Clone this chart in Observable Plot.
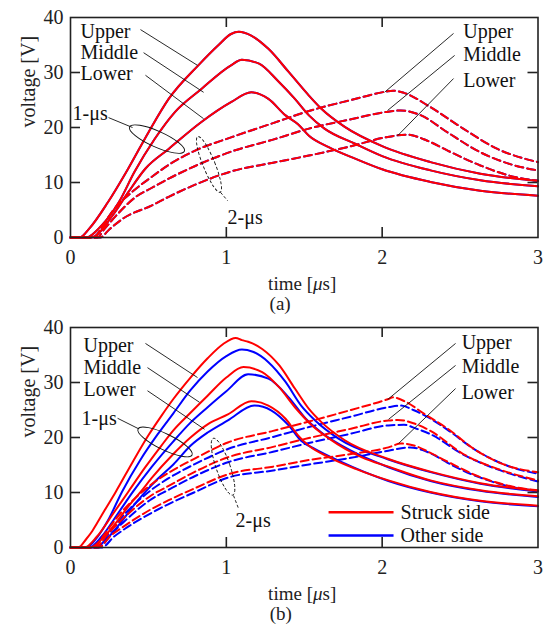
<!DOCTYPE html>
<html><head><meta charset="utf-8">
<script src="https://cdn.jsdelivr.net/npm/d3@7"></script>
<script src="https://cdn.jsdelivr.net/npm/@observablehq/plot@0.6"></script>
<style>body{margin:0;background:#fff}#a,#b{display:block;line-height:0}svg text{font-family:"Liberation Serif","Times New Roman",serif}</style>
</head><body><div id="a"></div><div id="b"></div>
<script>
// ---- data: [time (µs), voltage (V)] ----
// Panel (a): struck side and other side coincide
const A_U1 = [[0,0],[0.06,0],[0.12,1.6],[0.24,6.4],[0.37,12.5],[0.50,19.1],[0.63,25.2],[0.82,31.3],[0.95,35.0],[1.03,37.0],[1.08,37.4],[1.16,36.7],[1.27,34.3],[1.40,30.1],[1.53,25.8],[1.61,23.4],[1.76,20.1],[2.0,16.6],[2.31,13.7],[2.63,11.6],[3.0,10.3]];
const A_M1 = [[0,0],[0.10,0],[0.20,2.2],[0.31,6.4],[0.41,11.9],[0.54,17.9],[0.67,22.8],[0.84,27.0],[1.03,31.3],[1.10,32.3],[1.21,31.6],[1.33,28.5],[1.44,25.2],[1.53,22.2],[1.63,19.8],[1.83,17.0],[2.0,14.8],[2.31,12.2],[2.63,10.4],[3.0,9.3]];
const A_L1 = [[0,0],[0.13,0],[0.27,4.0],[0.37,8.2],[0.48,12.5],[0.63,16.1],[0.84,21.0],[1.03,24.6],[1.16,26.4],[1.27,25.2],[1.38,22.2],[1.46,20.6],[1.53,18.5],[1.66,16.4],[1.83,14.3],[2.0,12.4],[2.31,10.1],[2.63,8.5],[3.0,7.6]];
const A_U2 = [[0,0],[0.15,0],[0.20,1.8],[0.27,4.8],[0.40,8.4],[0.52,11.0],[0.63,13.2],[0.80,15.8],[1.03,18.2],[1.30,20.8],[1.53,23.0],[1.80,25.0],[2.02,26.5],[2.07,26.7],[2.14,26.3],[2.31,23.7],[2.52,19.8],[2.74,16.1],[3.0,13.7]];
const A_M2 = [[0,0],[0.17,0],[0.22,1.6],[0.30,4.2],[0.42,7.4],[0.52,9.0],[0.63,10.7],[0.80,13.0],[1.03,15.6],[1.30,17.8],[1.53,19.8],[1.80,21.5],[2.02,22.8],[2.12,23.1],[2.25,22.2],[2.42,19.1],[2.63,15.5],[2.85,13.1],[3.0,12.2]];
const A_L2 = [[0,0],[0.19,0],[0.25,1.5],[0.34,3.5],[0.52,5.8],[0.63,7.4],[0.80,9.6],[1.03,12.0],[1.30,13.6],[1.53,14.9],[1.80,16.6],[2.02,18.2],[2.16,18.7],[2.29,17.6],[2.42,15.8],[2.63,13.1],[2.85,11.0],[3.0,10.3]];

// Panel (b): struck side (red) and other side (blue)
const B_RU1 = [[0,0],[0.05,0],[0.10,1.5],[0.14,3.0],[0.17,4.4],[0.22,6.8],[0.29,10.1],[0.40,15.6],[0.50,20.4],[0.58,23.8],[0.66,27.0],[0.77,30.9],[0.88,34.4],[0.98,37.0],[1.06,38.1],[1.10,37.7],[1.14,37.4],[1.23,36.1],[1.34,33.1],[1.44,28.9],[1.53,25.2],[1.61,22.8],[1.76,19.5],[2.04,16.1],[2.31,13.8],[2.63,11.7],[3.0,10.3]];
const B_BU1 = [[0,0],[0.10,0],[0.17,1.8],[0.24,4.9],[0.33,10.1],[0.45,16.0],[0.56,20.6],[0.66,24.4],[0.77,28.6],[0.88,32.0],[1.00,34.8],[1.10,36.0],[1.17,35.6],[1.27,33.7],[1.38,30.1],[1.48,25.8],[1.57,23.1],[1.72,19.8],[2.04,16.0],[2.31,13.7],[2.63,11.6],[3.0,10.2]];
const B_RM1 = [[0,0],[0.09,0],[0.17,2.0],[0.27,6.0],[0.37,10.1],[0.48,14.6],[0.58,18.4],[0.66,21.3],[0.77,24.5],[0.88,27.6],[1.00,30.9],[1.11,32.8],[1.23,31.9],[1.34,29.1],[1.44,25.5],[1.55,22.2],[1.66,19.8],[1.87,16.4],[2.04,14.7],[2.31,12.2],[2.63,10.4],[3.0,9.3]];
const B_BM1 = [[0,0],[0.12,0],[0.20,2.0],[0.30,6.0],[0.40,10.1],[0.52,14.6],[0.66,19.3],[0.77,22.7],[0.88,25.5],[1.00,28.4],[1.14,31.5],[1.27,30.7],[1.40,27.3],[1.51,23.4],[1.61,20.9],[1.80,17.6],[2.04,14.6],[2.31,12.1],[2.63,10.3],[3.0,9.2]];
const B_RL1 = [[0,0],[0.13,0],[0.20,1.5],[0.30,4.8],[0.38,7.8],[0.45,10.1],[0.52,12.6],[0.66,17.0],[0.77,20.0],[0.88,22.4],[1.01,24.2],[1.16,26.6],[1.27,25.8],[1.38,23.4],[1.46,20.4],[1.53,18.5],[1.66,16.4],[1.83,14.3],[2.04,12.2],[2.31,10.1],[2.63,8.5],[3.0,7.6]];
const B_BL1 = [[0,0],[0.16,0],[0.23,1.5],[0.33,4.8],[0.41,7.8],[0.48,10.1],[0.56,12.5],[0.66,15.1],[0.77,18.5],[0.88,20.9],[1.01,23.1],[1.18,25.8],[1.29,24.9],[1.40,22.2],[1.48,19.4],[1.57,17.9],[1.72,15.8],[2.04,12.1],[2.31,10.0],[2.63,8.4],[3.0,7.5]];
const B_RU2 = [[0,0],[0.15,0],[0.22,2.5],[0.30,5.5],[0.52,11.5],[0.63,13.6],[0.80,16.2],[1.01,19.1],[1.30,21.2],[1.53,22.9],[1.80,25.0],[2.04,27.0],[2.07,27.3],[2.15,26.5],[2.27,24.3],[2.42,21.6],[2.59,17.9],[2.80,14.9],[3.0,13.7]];
const B_BU2 = [[0,0],[0.17,0],[0.24,2.3],[0.32,5.2],[0.52,10.5],[0.63,12.6],[0.80,15.2],[1.01,17.9],[1.30,20.1],[1.53,21.9],[1.80,23.8],[2.04,25.5],[2.12,25.8],[2.20,25.0],[2.30,23.6],[2.42,21.4],[2.59,17.9],[2.80,14.9],[3.0,13.4]];
const B_RM2 = [[0,0],[0.16,0],[0.24,2.5],[0.32,4.8],[0.52,9.5],[0.63,11.2],[0.80,13.8],[1.01,16.4],[1.30,18.3],[1.53,19.9],[1.80,21.6],[2.04,23.1],[2.10,23.2],[2.20,22.6],[2.31,21.2],[2.52,17.0],[2.74,14.3],[3.0,12.2]];
const B_BM2 = [[0,0],[0.18,0],[0.26,2.4],[0.34,4.6],[0.52,8.8],[0.63,10.5],[0.80,13.0],[1.01,15.5],[1.30,17.4],[1.53,19.0],[1.80,20.7],[2.04,22.2],[2.14,22.3],[2.22,21.6],[2.31,20.6],[2.52,16.9],[2.74,14.2],[3.0,12.0]];
const B_RL2 = [[0,0],[0.18,0],[0.26,2.2],[0.34,3.8],[0.52,7.0],[0.63,8.6],[0.80,10.8],[1.01,13.3],[1.30,14.7],[1.53,15.9],[1.80,17.0],[2.04,18.2],[2.12,18.9],[2.22,18.4],[2.31,17.2],[2.42,15.6],[2.63,12.8],[2.85,11.0],[3.0,10.4]];
const B_BL2 = [[0,0],[0.20,0],[0.28,2.0],[0.36,3.6],[0.52,6.3],[0.63,7.9],[0.80,10.1],[1.01,12.7],[1.30,14.0],[1.53,15.1],[1.80,16.3],[2.04,17.6],[2.18,18.2],[2.26,17.7],[2.34,16.7],[2.42,15.4],[2.63,12.7],[2.85,10.9],[3.0,10.3]];

const X_TICKS = [0, 1, 2, 3];
const Y_TICKS = [0, 10, 20, 30, 40];
const X_INNER = [1, 2];
const Y_INNER = [10, 20, 30];
const LEVELS = ["Upper", "Middle", "Lower"];

// annotations (data coordinates)
const ANN = {
  a: {
    leftText: [[0.064,37.45],[0.064,33.6],[0.064,29.8]],
    leftLead: [[0.449,37.8,0.815,31.3],[0.469,33.6,0.854,26.4],[0.481,29.5,0.854,21.6]],
    rightText: [[2.52,37.45],[2.52,33.3],[2.52,28.5]],
    rightLead: [[2.458,37.1,2.015,26.4],[2.465,33.1,2.035,23.1],[2.458,28.9,2.099,18.5]],
    one: {text:[0.013,22.5], lead:[0.244,21.8,0.398,20.0], ell:[0.558,17.8,30,8,24]},
    two: {text:[1.008,3.6], lead:[0.963,8.2,1.008,6.7], ell:[0.892,13.2,6,30,-22]},
    caption: ["(a)", 1.345]
  },
  b: {
    leftText: [[0.083,36.7],[0.083,32.7],[0.083,28.7]],
    leftLead: [[0.481,37.1,0.815,30.9],[0.494,32.7,0.828,26.4],[0.494,28.5,0.860,21.5]],
    rightText: [[2.51,37.3],[2.51,32.9],[2.51,28.2]],
    rightLead: [[2.471,37.1,2.035,26.9],[2.471,33.1,2.041,23.3],[2.471,28.9,2.105,18.9]],
    one: {text:[0.071,23.5], lead:[0.302,23.5,0.436,21.6], ell:[0.61,19.1,30,8,25.7]},
    two: {text:[1.059,4.9], lead:[1.046,9.45,1.078,7.1], ell:[0.982,14.6,7,30,-19]},
    caption: ["(b)", 1.35]
  }
};
const LEGEND = [["Struck side", "#ff0000", 6.4], ["Other side", "#0000ff", 2.2]];
const LEGEND_X = [1.656, 2.073, 2.118];
const TIME_LABEL_X = 1.49;

const RED = "#ff0000", BLUE = "#0000ff";
const SERIF = "'Liberation Serif', 'Times New Roman', serif";

function ellipseMark(e, dashed) {
  return (index, scales) => {
    const g = d3.create("svg:g");
    g.append("ellipse")
      .attr("cx", 0).attr("cy", 0).attr("rx", e[2]).attr("ry", e[3])
      .attr("transform", `translate(${scales.x(e[0])},${scales.y(e[1])}) rotate(${e[4]})`)
      .attr("fill", "none").attr("stroke", "#111").attr("stroke-width", 0.9)
      .attr("stroke-dasharray", dashed ? "3,2" : null);
    return g.node();
  };
}
function timeLabelMark(offset) {
  return (index, scales, values, dims) => {
    const t = d3.create("svg:text")
      .attr("x", scales.x(TIME_LABEL_X))
      .attr("y", dims.height - dims.marginBottom + offset)
      .attr("dy", "0.32em").attr("text-anchor", "middle").attr("fill", "#222")
      .attr("font-size", 19).attr("font-family", SERIF);
    t.append("tspan").text("time [");
    t.append("tspan").attr("font-style", "italic").text("\u03bc");
    t.append("tspan").text("s]");
    return t.node();
  };
}

function panel(lines, ann, height, legend) {
  const mt = 17, mb = height - 237, ml = 70, mr = 11.5;
  const FH = height - mt - mb, FW = 549 - ml - mr;
  const T = {fill: "#111", fontSize: 20, fontFamily: SERIF};
  const lineMarks = lines.map(([data, color, dashed]) =>
    Plot.line(data, {x: d => d[0], y: d => d[1], stroke: color, strokeWidth: 2,
      strokeDasharray: dashed ? "8,4" : null, curve: "monotone-x"}));
  const link = (arr, dashed) => Plot.link(arr, {x1: d => d[0], y1: d => d[1], x2: d => d[2], y2: d => d[3],
      stroke: "#111", strokeWidth: 0.9, strokeDasharray: dashed ? "3,2" : null});
  const marks = [
    ...lineMarks,
    Plot.frame({stroke: "#222", strokeWidth: 1.6}),
    Plot.tickX(X_INNER, {x: d => d, insetTop: FH - 10, stroke: "#222", strokeWidth: 1.6}),
    Plot.tickX(X_INNER, {x: d => d, insetBottom: FH - 10, stroke: "#222", strokeWidth: 1.6}),
    Plot.tickY(Y_INNER, {y: d => d, insetRight: FW - 10, stroke: "#222", strokeWidth: 1.6}),
    Plot.tickY(Y_INNER, {y: d => d, insetLeft: FW - 10, stroke: "#222", strokeWidth: 1.6}),
    Plot.axisX({ticks: X_TICKS, tickFormat: d => String(d), tickSize: 0, tickPadding: 12, label: null, fill: "#222", fontSize: 20, fontFamily: SERIF}),
    Plot.axisY({ticks: Y_TICKS, tickFormat: d => String(d), tickSize: 0, tickPadding: 7, label: null, fill: "#222", fontSize: 20, fontFamily: SERIF}),
    Plot.text(["voltage [V]"], {frameAnchor: "left", dx: -42, rotate: -90, text: d => d, ...T, fill: "#222"}),
    timeLabelMark(47),
    Plot.text([ann.caption], {x: d => d[1], frameAnchor: "bottom", dy: 72, text: d => d[0], ...T, fontSize: 19, fill: "#222"}),
    Plot.text(ann.leftText, {x: d => d[0], y: d => d[1], text: (d, i) => LEVELS[i], textAnchor: "start", ...T}),
    Plot.text(ann.rightText, {x: d => d[0], y: d => d[1], text: (d, i) => LEVELS[i], textAnchor: "start", ...T}),
    link(ann.leftLead), link(ann.rightLead),
    Plot.text([ann.one.text], {x: d => d[0], y: d => d[1], text: () => "1-\u03bcs", textAnchor: "start", ...T}),
    link([ann.one.lead]),
    ellipseMark(ann.one.ell, false),
    Plot.text([ann.two.text], {x: d => d[0], y: d => d[1], text: () => "2-\u03bcs", textAnchor: "start", ...T}),
    link([ann.two.lead], true),
    ellipseMark(ann.two.ell, true)
  ];
  if (legend) {
    marks.push(
      Plot.link(LEGEND, {x1: LEGEND_X[0], x2: LEGEND_X[1], y1: d => d[2], y2: d => d[2], stroke: d => d[1], strokeWidth: 2.5}),
      Plot.text(LEGEND, {x: LEGEND_X[2], y: d => d[2], text: d => d[0], textAnchor: "start", ...T})
    );
  }
  return Plot.plot({
    width: 549, height, marginTop: mt, marginBottom: mb, marginLeft: ml, marginRight: mr,
    x: {domain: [0, 3]}, y: {domain: [0, 40]},
    style: {fontFamily: SERIF, fontSize: "20px", background: "#fff", overflow: "visible"},
    marks
  });
}

const linesA = [
  [A_U1, BLUE, false], [A_M1, BLUE, false], [A_L1, BLUE, false],
  [A_U2, BLUE, true], [A_M2, BLUE, true], [A_L2, BLUE, true],
  [A_U1, RED, false], [A_M1, RED, false], [A_L1, RED, false],
  [A_U2, RED, true], [A_M2, RED, true], [A_L2, RED, true]
];
const linesB = [
  [B_BU1, BLUE, false], [B_BM1, BLUE, false], [B_BL1, BLUE, false],
  [B_BU2, BLUE, true], [B_BM2, BLUE, true], [B_BL2, BLUE, true],
  [B_RU1, RED, false], [B_RM1, RED, false], [B_RL1, RED, false],
  [B_RU2, RED, true], [B_RM2, RED, true], [B_RL2, RED, true]
];
document.getElementById("a").append(panel(linesA, ANN.a, 310, false));
document.getElementById("b").append(panel(linesB, ANN.b, 316, true));
</script>
</body></html>
